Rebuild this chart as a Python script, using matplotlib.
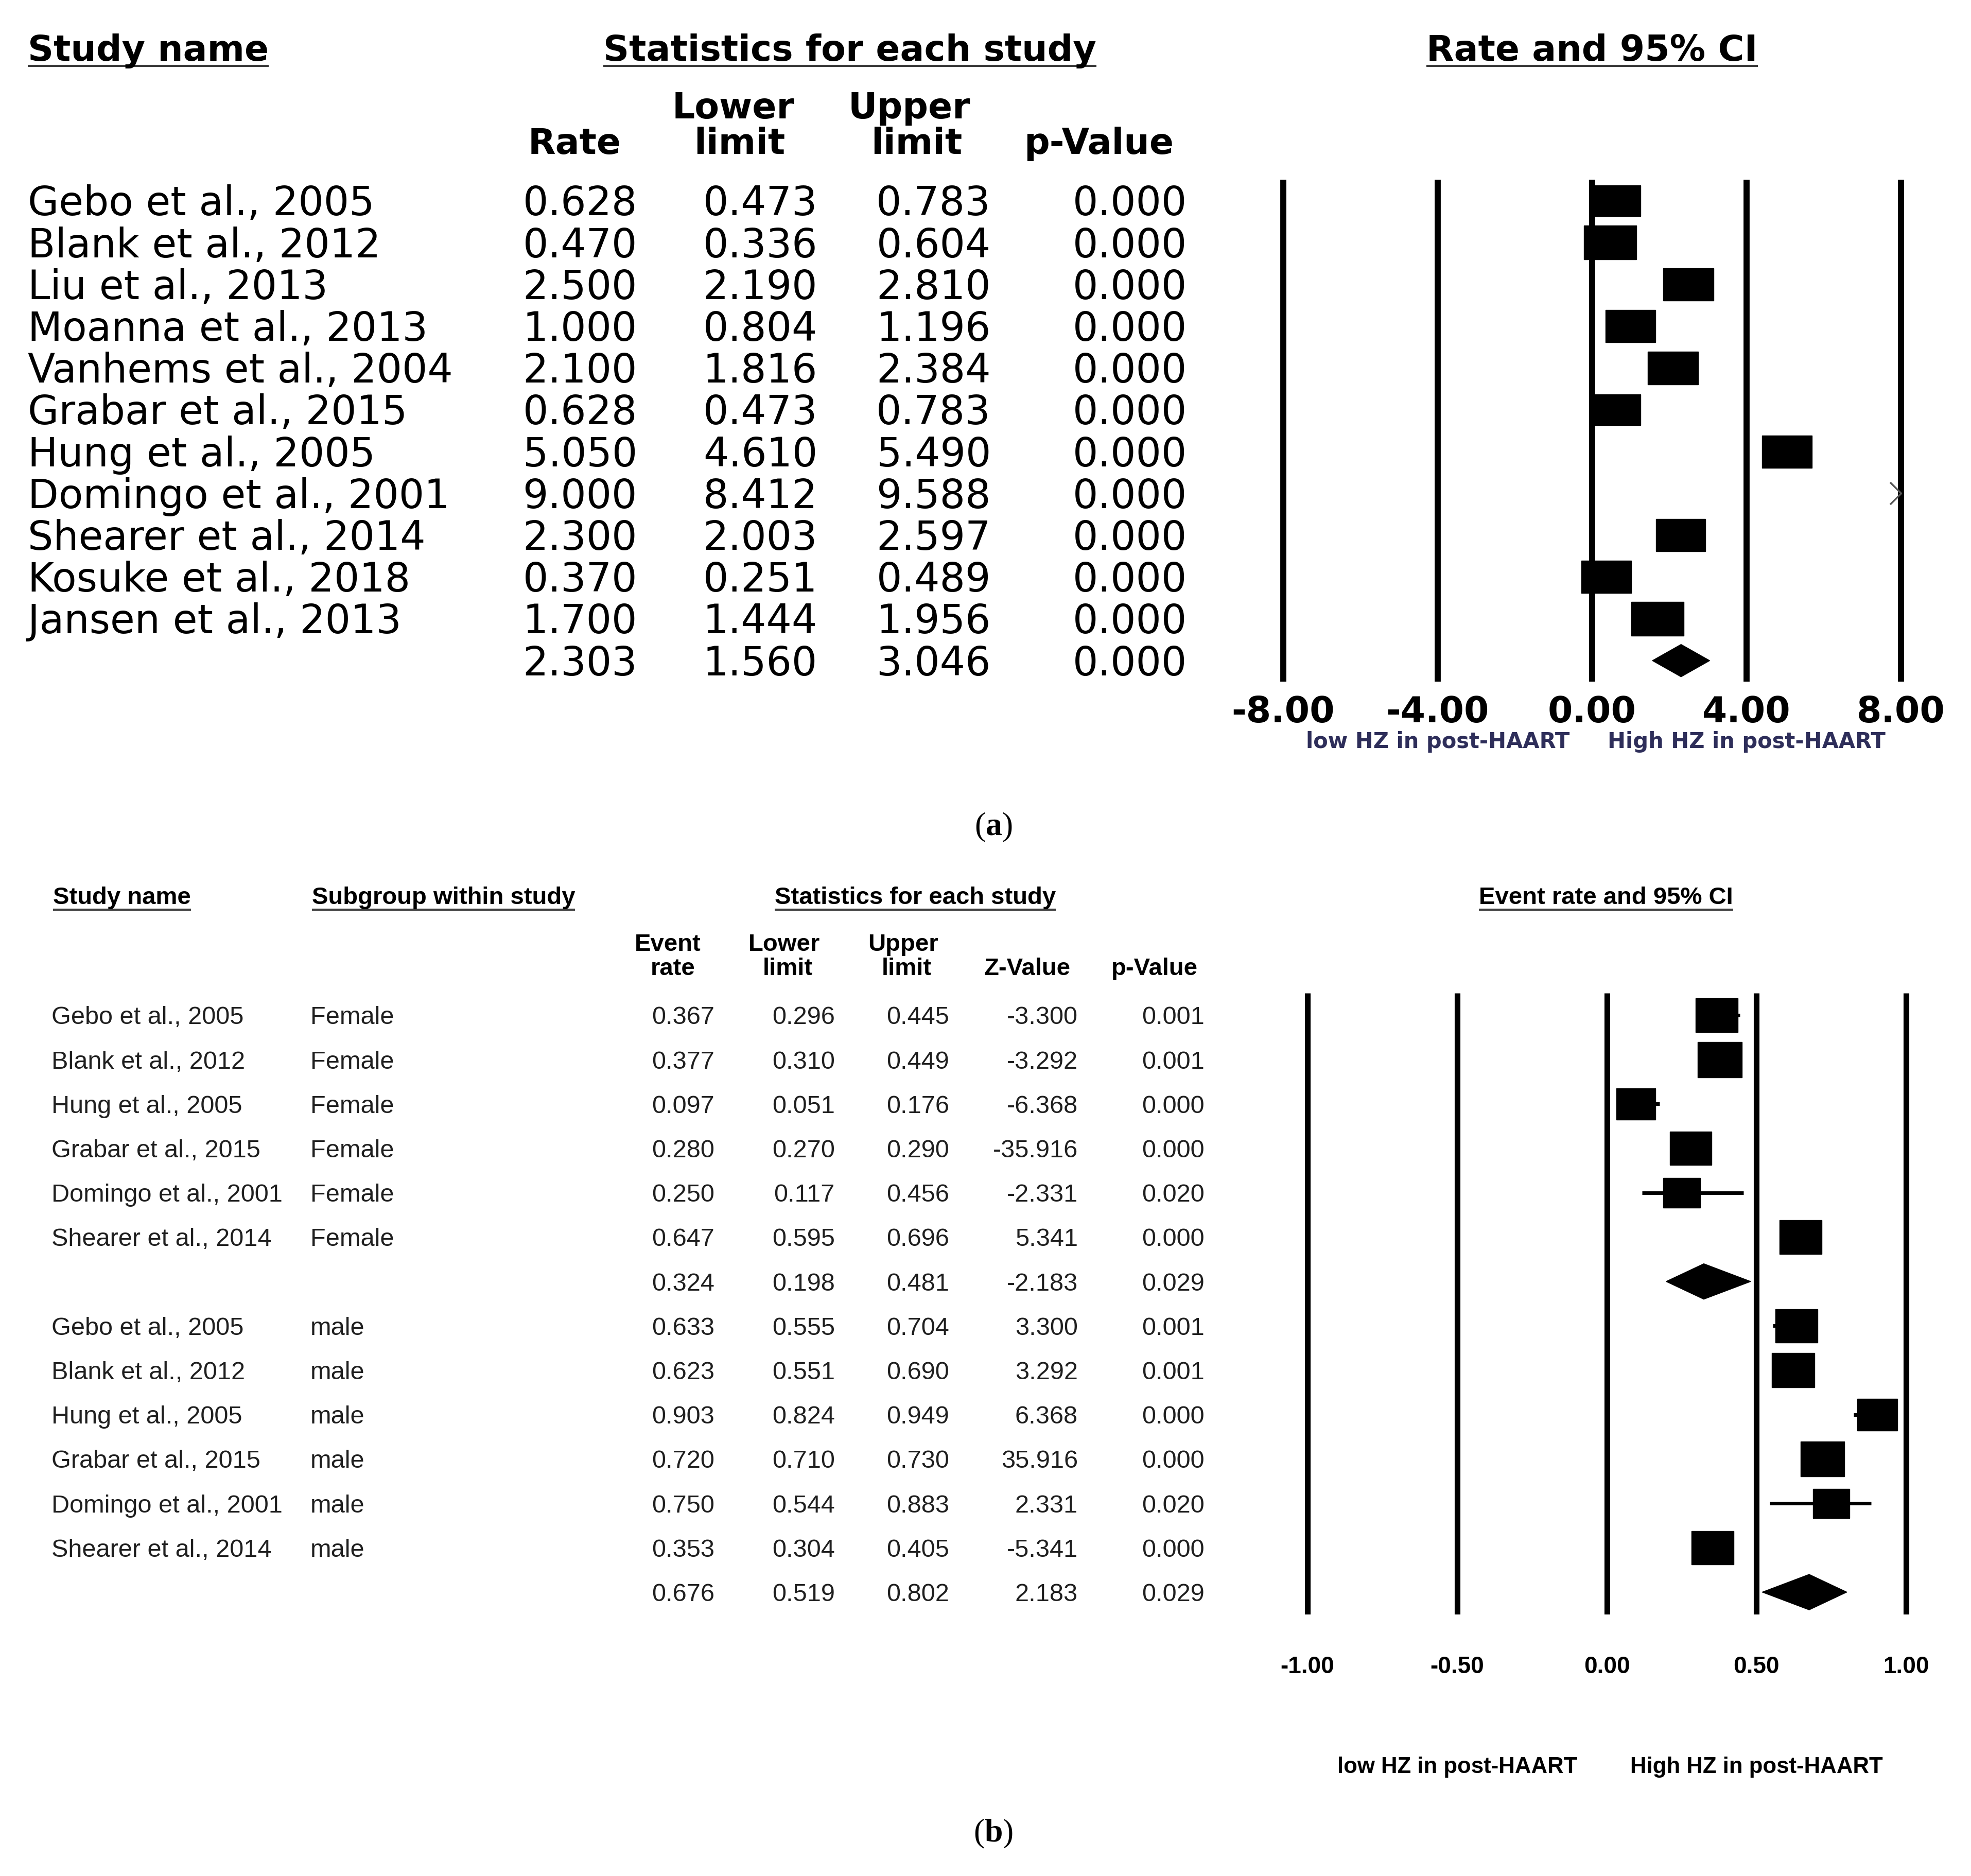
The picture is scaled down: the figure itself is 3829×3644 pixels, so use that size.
import matplotlib
matplotlib.use("Agg")
import matplotlib.pyplot as plt
from matplotlib.patches import Rectangle, Polygon
from matplotlib.path import Path
from matplotlib import transforms

# ---- panel (a): rate of HZ, all studies
studies_a = ["Gebo et al., 2005", "Blank et al., 2012", "Liu et al., 2013",
             "Moanna et al., 2013", "Vanhems et al., 2004", "Grabar et al., 2015",
             "Hung et al., 2005", "Domingo et al., 2001", "Shearer et al., 2014",
             "Kosuke et al., 2018", "Jansen et al., 2013"]
rate_a = [0.628, 0.470, 2.500, 1.000, 2.100, 0.628, 5.050, 9.000, 2.300, 0.370, 1.700]
lower_a = [0.473, 0.336, 2.190, 0.804, 1.816, 0.473, 4.610, 8.412, 2.003, 0.251, 1.444]
upper_a = [0.783, 0.604, 2.810, 1.196, 2.384, 0.783, 5.490, 9.588, 2.597, 0.489, 1.956]
p_a = [0.000, 0.000, 0.000, 0.000, 0.000, 0.000, 0.000, 0.000, 0.000, 0.000, 0.000]
weight_a = [9.3, 10.2, 9.8, 9.7, 9.8, 9.3, 9.7, 9.6, 9.6, 9.7, 10.2]
summary_a = [2.303, 1.560, 3.046, 0.000]   # rate, lower, upper, p
ticks_a = [-8, -4, 0, 4, 8]

# ---- panel (b): event rate by sex
studies_b = ["Gebo et al., 2005", "Blank et al., 2012", "Hung et al., 2005",
             "Grabar et al., 2015", "Domingo et al., 2001", "Shearer et al., 2014"]
rate_f = [0.367, 0.377, 0.097, 0.280, 0.250, 0.647]
lower_f = [0.296, 0.310, 0.051, 0.270, 0.117, 0.595]
upper_f = [0.445, 0.449, 0.176, 0.290, 0.456, 0.696]
z_f = [-3.300, -3.292, -6.368, -35.916, -2.331, 5.341]
p_f = [0.001, 0.001, 0.000, 0.000, 0.020, 0.000]
weight_f = [8.2, 8.6, 7.6, 8.1, 7.2, 8.2]
summary_f = [0.324, 0.198, 0.481, -2.183, 0.029]

rate_m = [0.633, 0.623, 0.903, 0.720, 0.750, 0.353]
lower_m = [0.555, 0.551, 0.824, 0.710, 0.544, 0.304]
upper_m = [0.704, 0.690, 0.949, 0.730, 0.883, 0.405]
z_m = [3.300, 3.292, 6.368, 35.916, 2.331, -5.341]
p_m = [0.001, 0.001, 0.000, 0.000, 0.020, 0.000]
weight_m = [8.2, 8.3, 7.8, 8.5, 7.1, 8.2]
summary_m = [0.676, 0.519, 0.802, 2.183, 0.029]
ticks_b = [-1.0, -0.5, 0.0, 0.5, 1.0]

plt.rcParams["mathtext.fontset"] = "custom"
plt.rcParams["mathtext.rm"] = "Liberation Serif"
plt.rcParams["mathtext.bf"] = "Liberation Serif:bold"

W, H, DPI = 3830, 3644, 100
fig = plt.figure(figsize=(W / DPI, H / DPI), dpi=DPI)
page = fig.add_axes([0, 0, 1, 1])
page.set_xlim(0, W)
page.set_ylim(H, 0)
page.axis("off")

CAP = {"DejaVu Sans": 0.729, "Liberation Sans": 0.716}


def put(x, yc, s, size, family, ha="left", weight="normal", color="black", tr=None):
    # yc = middle of the capitals, in page pixels
    base = yc + 0.5 * CAP[family] * size * DPI / 72
    return page.text(x, base, s, fontsize=size, family=family, ha=ha, va="baseline",
                     fontweight=weight, color=color,
                     transform=tr if tr is not None else page.transData)


def forest_axes(x_zero, px_unit, xlim, y_first, row_gap, n_rows):
    left = x_zero + xlim[0] * px_unit
    top = y_first - 0.5 * row_gap
    ax = fig.add_axes([left / W, 1 - (top + n_rows * row_gap) / H,
                       (xlim[1] - xlim[0]) * px_unit / W, n_rows * row_gap / H])
    ax.set_xlim(*xlim)
    ax.set_ylim(n_rows - 0.5, -0.5)
    ax.patch.set_visible(False)
    for s in ax.spines.values():
        s.set_visible(False)
    ax.set_yticks([])
    return ax


chevron = Path([(-1, 1), (0, 0), (-1, -1)], [Path.MOVETO, Path.LINETO, Path.LINETO])
underlined = []

# ================= panel (a) =================
XA0, PXA, YA0, DYA = 3093, 75.0, 390, 81.2
FA = "DejaVu Sans"
ROW_A, HEAD_A = 56, 50
n_a = len(studies_a) + 1
ax_a = forest_axes(XA0, PXA, (-8.15, 8.15), YA0, DYA, n_a)
for t in ticks_a:
    ax_a.axvline(t, color="black", lw=8.5, solid_capstyle="butt", zorder=1)
ax_a.set_xticks(ticks_a, [f"{t:.2f}" for t in ticks_a], fontsize=50,
                fontweight="bold", family=FA)
ax_a.tick_params(axis="x", length=0, pad=19)

for i in range(len(studies_a)):
    ax_a.plot([lower_a[i], upper_a[i]], [i, i], color="black", lw=5,
              solid_capstyle="butt", zorder=2)
    bw = 10 * weight_a[i] / PXA
    bh = 6.5 * weight_a[i] / DYA
    ax_a.add_patch(Rectangle((rate_a[i] - bw / 2, i - bh / 2), bw, bh,
                             color="black", zorder=3))
    if lower_a[i] > ticks_a[-1]:
        ax_a.plot(ticks_a[-1], i, marker=chevron, ms=31, mfc="none", mec="#555555",
                  mew=2.5, clip_on=False, zorder=4)
r, lo, hi, _ = summary_a
i = len(studies_a)
dh = 63 / DYA / 2
ax_a.add_patch(Polygon([(lo, i), (r, i - dh), (hi, i), (r, i + dh)], closed=True,
                       color="black", zorder=3))

underlined.append((put(54, 93, "Study name", HEAD_A, FA, weight="bold"), 128, "#3a3a3a"))
underlined.append((put(1651, 93, "Statistics for each study", HEAD_A, FA, ha="center",
                       weight="bold"), 128, "#3a3a3a"))
underlined.append((put(3093, 93, "Rate and 95% CI", HEAD_A, FA, ha="center",
                       weight="bold"), 128, "#3a3a3a"))
put(1424, 205, "Lower", HEAD_A, FA, ha="center", weight="bold")
put(1766, 205, "Upper", HEAD_A, FA, ha="center", weight="bold")
put(1116, 274, "Rate", HEAD_A, FA, ha="center", weight="bold")
put(1437, 274, "limit", HEAD_A, FA, ha="center", weight="bold")
put(1781, 274, "limit", HEAD_A, FA, ha="center", weight="bold")
put(2135, 274, "p-Value", HEAD_A, FA, ha="center", weight="bold")

cols_a = [rate_a + [summary_a[0]], lower_a + [summary_a[1]],
          upper_a + [summary_a[2]], p_a + [summary_a[3]]]
right_a = [1238, 1588, 1925, 2306]
for i in range(n_a):
    yc = YA0 + i * DYA
    if i < len(studies_a):
        put(54, yc, studies_a[i], ROW_A, FA)
    for col, xr in zip(cols_a, right_a):
        put(xr, yc, f"{col[i]:.3f}", ROW_A, FA, ha="right")

tr_a = transforms.blended_transform_factory(ax_a.transData, page.transData)
put(ticks_a[1], 1438, "low HZ in post-HAART", 30, FA, ha="center", weight="bold",
    color="#2e2e5a", tr=tr_a)
put(ticks_a[3], 1438, "High HZ in post-HAART", 30, FA, ha="center", weight="bold",
    color="#2e2e5a", tr=tr_a)
page.text(1930, 1607, r"($\mathbf{a}$)", fontsize=46, family="Liberation Serif",
          ha="center", va="center")

# ================= panel (b) =================
XB0, PXB, YB0, DYB = 3121.5, 581.5, 1972, 86.2
FB = "Liberation Sans"
ROW_B, HEAD_B = 35, 34
names_b = studies_b + [""] + studies_b + [""]
groups_b = ["Female"] * len(studies_b) + [""] + ["male"] * len(studies_b) + [""]
rate_b = rate_f + [summary_f[0]] + rate_m + [summary_m[0]]
lower_b = lower_f + [summary_f[1]] + lower_m + [summary_m[1]]
upper_b = upper_f + [summary_f[2]] + upper_m + [summary_m[2]]
z_b = z_f + [summary_f[3]] + z_m + [summary_m[3]]
p_b = p_f + [summary_f[4]] + p_m + [summary_m[4]]
weight_b = weight_f + [None] + weight_m + [None]
n_b = len(names_b)

ax_b = forest_axes(XB0, PXB, (-1.02, 1.02), YB0, DYB, n_b)
for t in ticks_b:
    ax_b.axvline(t, color="black", lw=8, solid_capstyle="butt", zorder=1)
ax_b.set_xticks(ticks_b, [f"{t:.2f}" for t in ticks_b], fontsize=33,
                fontweight="bold", family=FB)
ax_b.tick_params(axis="x", length=0, pad=58)

for i in range(n_b):
    if weight_b[i] is None:
        dh = 69 / DYB / 2
        ax_b.add_patch(Polygon([(lower_b[i], i), (rate_b[i], i - dh), (upper_b[i], i),
                                (rate_b[i], i + dh)], closed=True, color="black", zorder=3))
        continue
    ax_b.plot([lower_b[i], upper_b[i]], [i, i], color="black", lw=5,
              solid_capstyle="butt", zorder=2)
    bw = 10 * weight_b[i] / PXB
    bh = 8 * weight_b[i] / DYB
    ax_b.add_patch(Rectangle((rate_b[i] - bw / 2, i - bh / 2), bw, bh,
                             color="black", zorder=3))

underlined.append((put(103, 1739, "Study name", HEAD_B, FB, weight="bold"), 1767, "#404040"))
underlined.append((put(606, 1739, "Subgroup within study", HEAD_B, FB, weight="bold"), 1767,
                   "#404040"))
underlined.append((put(1778, 1739, "Statistics for each study", HEAD_B, FB, ha="center",
                       weight="bold"), 1767, "#404040"))
underlined.append((put(3120, 1739, "Event rate and 95% CI", HEAD_B, FB, ha="center",
                       weight="bold"), 1767, "#404040"))
put(1297, 1830, "Event", HEAD_B, FB, ha="center", weight="bold")
put(1524, 1830, "Lower", HEAD_B, FB, ha="center", weight="bold")
put(1754, 1830, "Upper", HEAD_B, FB, ha="center", weight="bold")
put(1307, 1877, "rate", HEAD_B, FB, ha="center", weight="bold")
put(1530, 1877, "limit", HEAD_B, FB, ha="center", weight="bold")
put(1761, 1877, "limit", HEAD_B, FB, ha="center", weight="bold")
put(1996, 1877, "Z-Value", HEAD_B, FB, ha="center", weight="bold")
put(2243, 1877, "p-Value", HEAD_B, FB, ha="center", weight="bold")

right_b = [1388, 1622, 1844, 2094, 2340]
for i in range(n_b):
    yc = YB0 + i * DYB
    put(100, yc, names_b[i], ROW_B, FB, color="#1f1f1f")
    put(603, yc, groups_b[i], ROW_B, FB, color="#1f1f1f")
    for col, xr in zip([rate_b, lower_b, upper_b, z_b, p_b], right_b):
        put(xr, yc, f"{col[i]:.3f}", ROW_B, FB, ha="right", color="#1f1f1f")

tr_b = transforms.blended_transform_factory(ax_b.transData, page.transData)
put(ticks_b[1], 3428, "low HZ in post-HAART", 31.5, FB, ha="center", weight="bold", tr=tr_b)
put(ticks_b[3], 3428, "High HZ in post-HAART", 31.5, FB, ha="center", weight="bold", tr=tr_b)
page.text(1930, 3562, r"($\mathbf{b}$)", fontsize=46, family="Liberation Serif",
          ha="center", va="center")

# underline the section headers at the width of their text
fig.canvas.draw()
rend = fig.canvas.get_renderer()
for txt, y, c in underlined:
    bb = txt.get_window_extent(renderer=rend)
    page.plot([bb.x0, bb.x1], [y, y], color=c, lw=3, solid_capstyle="butt")

fig.savefig("out.png", dpi=DPI)
